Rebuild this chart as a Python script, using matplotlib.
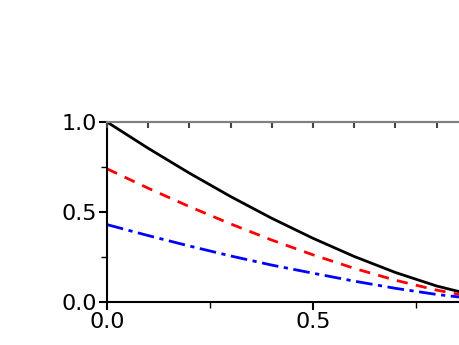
import numpy as np
import matplotlib
matplotlib.use("Agg")
import matplotlib.pyplot as plt

# valores
x = [0.0, 0.1, 0.2, 0.3, 0.4, 0.5, 0.6, 0.7, 0.8, 0.9, 1.0]
negra = [1.0, 0.854, 0.716, 0.586, 0.465, 0.354, 0.253, 0.164, 0.089, 0.032, 0.0]
roja = [0.74, 0.632, 0.530, 0.434, 0.344, 0.262, 0.187, 0.121, 0.066, 0.023, 0.0]
azul = [0.43, 0.369, 0.311, 0.256, 0.205, 0.160, 0.116, 0.076, 0.042, 0.016, 0.0]

# el 1.0 del eje x queda fuera de la imagen en la original
ticks_x = [0.0, 0.5]
etiquetas_x = ["0.0", "0.5"]
ticks_y = [0.0, 0.5, 1.0]
etiquetas_y = ["0.0", "0.5", "1.0"]
ticks_sup = [0.1 * i for i in range(11)]

fig = plt.figure(figsize=(4.6, 3.45), dpi=100)
# el eje sobresale por la derecha, igual que en la original
ax = fig.add_axes([107 / 460, 43 / 345, 412 / 460, 180 / 345])

ax.plot(x, negra, color="black", linewidth=2)
ax.plot(x, roja, color="red", linewidth=2, linestyle=(0, (4, 3)))
ax.plot(x, azul, color="blue", linewidth=2, linestyle=(0, (6, 2, 1.5, 2)))

ax.set_xlim(0, 1)
ax.set_ylim(0, 1)
ax.set_xticks(ticks_x)
ax.set_yticks(ticks_y)
ax.set_xticks([0.25, 0.75], minor=True)
ax.set_yticks([0.25, 0.75], minor=True)
ax.set_xticklabels(etiquetas_x)
ax.set_yticklabels(etiquetas_y)
ax.tick_params(which="major", direction="out", length=6, width=1.5, labelsize=16, pad=1)
ax.tick_params(which="minor", direction="out", length=4, width=1)
ax.tick_params(top=False, right=False)

for lado in ["left", "bottom"]:
    ax.spines[lado].set_linewidth(1.5)
ax.spines["top"].set_color("grey")
ax.spines["top"].set_linewidth(1.5)
ax.spines["right"].set_visible(False)

sup = ax.twiny()
sup.set_xlim(0, 1)
sup.set_xticks(ticks_sup)
sup.set_xticklabels([])
sup.tick_params(direction="in", length=4, width=1.5, color="#444444")
for lado in ["left", "bottom", "right"]:
    sup.spines[lado].set_visible(False)
sup.spines["top"].set_color("grey")
sup.spines["top"].set_linewidth(1.5)

fig.savefig("out.png", dpi=100)
